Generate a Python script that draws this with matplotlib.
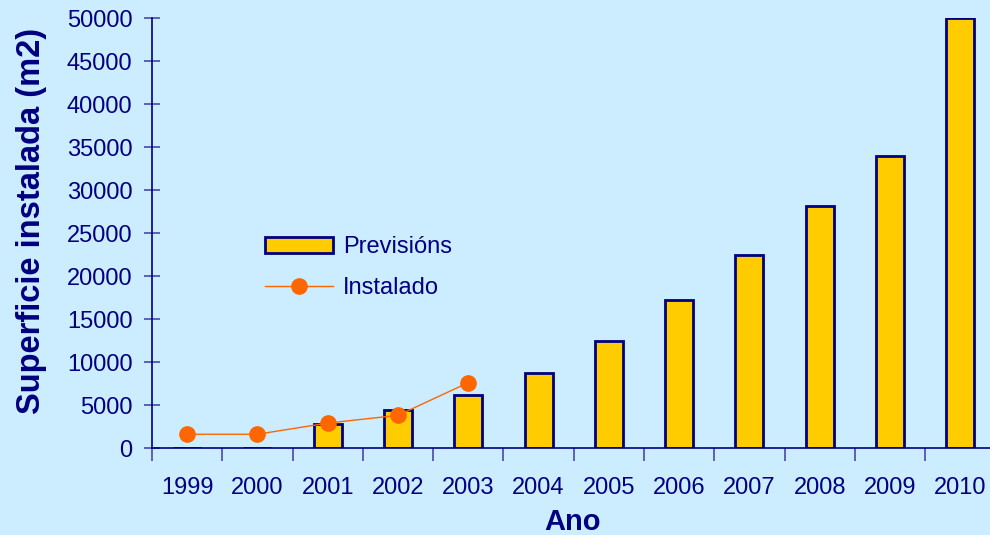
import matplotlib.pyplot as plt
import numpy as np

plt.rcParams['font.family'] = ['Liberation Sans', 'DejaVu Sans']

anos = ['1999', '2000', '2001', '2002', '2003', '2004', '2005', '2006',
        '2007', '2008', '2009', '2010']
previsions = [0, 0, 2800, 4400, 6200, 8700, 12400, 17200, 22400, 28100, 34000, 50000]
instalado = [1600, 1600, 2900, 3800, 7600]

navy = '#000080'
bg = '#CCECFF'

fig = plt.figure(figsize=(9.9, 5.35), dpi=100, facecolor=bg)
ax = fig.add_axes([0.1535, 0.1626, 0.852, 0.8037], facecolor=bg)

x = np.arange(len(anos)) + 0.5
b = ax.bar(x, previsions, width=0.4, color='#FFCC00', edgecolor=navy,
           linewidth=2, label='Previsións', zorder=2)
l, = ax.plot(x[:len(instalado)], instalado, color='#FF6600', linewidth=1,
             marker='o', markersize=11, label='Instalado', zorder=3, clip_on=False)

ax.set_xlim(0, len(anos))
ax.set_ylim(0, 50000)

for s in ['top', 'right']:
    ax.spines[s].set_visible(False)
for s in ['left', 'bottom']:
    ax.spines[s].set_color(navy)
    ax.spines[s].set_linewidth(1.2)

ax.set_yticks(np.arange(0, 50001, 5000))
ax.tick_params(axis='y', direction='inout', length=12, width=1.2,
               color='#4a4aa8', labelcolor=navy, labelsize=17, pad=8)
ax.set_xticks(np.arange(0, len(anos) + 1))
ax.set_xticklabels([])
ax.set_xticks(x, minor=True)
ax.set_xticklabels(anos, minor=True)
ax.tick_params(axis='x', which='major', direction='out', length=9, width=1.2,
               color='#4a4aa8')
ax.tick_params(axis='x', which='minor', length=0, labelcolor=navy,
               labelsize=17, pad=21)

ax.set_ylabel('Superficie instalada (m2)', fontsize=23.5, fontweight='bold',
              color=navy)
ax.yaxis.set_label_coords(-0.125, 0.528)
ax.set_xlabel('Ano', fontsize=21, fontweight='bold', color=navy)
ax.xaxis.set_label_coords(0.499, -0.14)

leg = ax.legend([b, l], ['Previsións', 'Instalado'], loc='upper left',
                bbox_to_anchor=(0.134, 0.492), frameon=False,
                fontsize=17, handlelength=2.9, handletextpad=0.4,
                labelspacing=0.8, borderaxespad=0, borderpad=0)
for t in leg.get_texts():
    t.set_color(navy)

fig.savefig('out.png', dpi=100, facecolor=bg)
